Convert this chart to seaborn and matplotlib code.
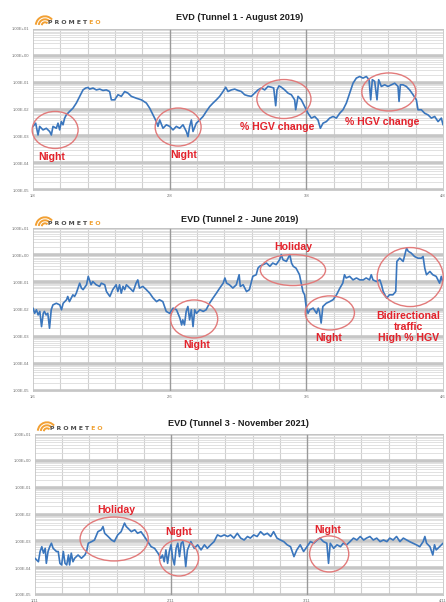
import numpy as np
import matplotlib
matplotlib.use("Agg")
import matplotlib.pyplot as plt
from matplotlib.patches import Ellipse, Arc
from matplotlib.ticker import LogLocator, NullFormatter, FixedLocator
import seaborn as sns

# ---------------------------------------------------------------- data
# time in hours from the first midnight, EVD given as log10 values
day_labels_t1 = ["1/8", "2/8", "3/8", "4/8"]
day_labels_t2 = ["1/6", "2/6", "3/6", "4/6"]
day_labels_t3 = ["1/11", "2/11", "3/11", "4/11"]
evd_tick_labels = ["1.00E-05", "1.00E-04", "1.00E-03", "1.00E-02",
                   "1.00E-01", "1.00E+00", "1.00E+01"]

t1_hours = [0.0, 0.47, 0.88, 1.17, 1.76, 2.34, 2.93, 3.22, 3.51, 4.10, 4.39, 4.68, 4.98, 5.27,
            5.56, 5.85, 6.44, 7.02, 7.61, 8.20, 8.78, 9.25, 9.66, 9.95, 10.54, 11.12, 11.71,
            12.29, 12.88, 13.46, 13.76, 14.34, 14.93, 15.51, 16.10, 16.68, 17.27, 18.15, 19.03,
            19.91, 20.49, 21.07, 21.66, 21.95, 22.25, 22.83, 23.42, 24.00, 24.59, 25.17, 25.76,
            26.34, 26.93, 27.22, 27.51, 27.81, 28.10, 28.68, 29.27, 29.86, 30.44, 31.03, 31.61,
            32.20, 32.78, 33.37, 33.84, 34.25, 34.83, 35.42, 36.00, 36.59, 37.17, 37.76, 38.34,
            38.93, 39.51, 40.10, 40.69, 41.27, 41.86, 42.27, 42.62, 42.85, 43.20, 43.61, 44.20,
            44.78, 45.37, 45.95, 46.13, 46.54, 47.12, 47.71, 48.30, 48.88, 49.47, 50.05, 50.46,
            50.93, 51.52, 52.10, 52.69, 53.27, 53.86, 54.44, 55.03, 55.61, 56.20, 56.78, 57.37,
            57.95, 58.54, 59.01, 59.30, 59.59, 60.00, 60.41, 60.70, 61.17, 61.76, 62.34, 62.93,
            63.52, 64.10, 64.28, 64.51, 64.98, 65.56, 66.15, 66.74, 67.32, 67.61, 68.20, 68.78,
            69.37, 69.95, 70.54, 71.13, 71.71, 72.0]
t1_log_evd = [-2.63, -2.51, -2.95, -2.63, -2.76, -2.70, -2.82, -2.95, -2.63, -2.70, -2.51, -2.76,
              -2.45, -2.57, -2.32, -2.20, -2.07, -1.95, -1.76, -1.51, -1.27, -1.20, -1.18, -1.24,
              -1.20, -1.27, -1.24, -1.29, -1.27, -1.33, -1.64, -1.64, -1.45, -1.51, -1.33, -1.39,
              -1.51, -1.58, -1.64, -1.76, -1.95, -2.20, -2.45, -2.63, -2.39, -2.70, -2.57, -2.63,
              -2.76, -2.63, -2.70, -2.57, -2.82, -3.01, -2.63, -2.39, -2.82, -2.51, -2.39, -2.26,
              -2.07, -1.89, -1.76, -1.64, -1.51, -1.33, -1.17, -1.33, -1.27, -1.24, -1.29, -1.33,
              -1.45, -1.49, -1.51, -1.39, -1.27, -1.20, -1.27, -1.14, -1.17, -1.20, -1.86, -1.27,
              -1.12, -1.17, -1.27, -1.39, -1.45, -1.64, -2.01, -1.51, -1.64, -1.89, -2.14, -2.32,
              -2.26, -2.39, -2.70, -2.51, -2.45, -2.32, -2.26, -2.32, -2.14, -2.01, -1.76, -1.39,
              -1.02, -0.83, -0.77, -0.83, -0.77, -0.89, -1.64, -0.89, -0.95, -1.64, -0.89, -1.14,
              -1.08, -1.14, -1.08, -1.02, -1.14, -1.70, -1.08, -1.08, -1.14, -1.27, -1.45, -1.64,
              -2.01, -2.01, -2.14, -2.20, -2.32, -2.26, -2.45, -2.32, -2.57]

t2_hours = [0.0, 0.3, 0.6, 0.9, 1.2, 1.5, 1.8, 2.0, 2.3, 2.6, 2.9, 3.2, 3.5, 4.1, 4.7, 5.0, 5.3,
            5.9, 6.1, 6.4, 7.0, 7.3, 7.6, 8.2, 8.5, 8.8, 9.4, 9.7, 10.0, 10.2, 10.5, 11.1, 11.7,
            12.0, 12.6, 12.9, 13.5, 14.0, 14.6, 14.9, 15.2, 15.5, 15.8, 16.1, 16.4, 17.0, 17.6,
            18.1, 18.4, 18.7, 19.3, 19.9, 20.5, 21.1, 21.7, 22.2, 22.8, 23.1, 23.4, 24.0, 24.6,
            25.2, 25.8, 26.1, 26.3, 26.6, 26.9, 27.2, 27.5, 27.8, 28.1, 28.4, 28.7, 29.3, 29.9,
            30.4, 31.0, 31.6, 32.2, 32.8, 33.4, 33.7, 34.0, 34.5, 35.1, 35.7, 36.2, 36.4, 36.9,
            37.5, 38.0, 38.6, 39.2, 39.5, 39.8, 40.4, 41.0, 41.6, 42.1, 42.7, 43.3, 43.6, 43.9,
            44.5, 45.1, 45.4, 45.7, 46.2, 46.8, 47.1, 47.4, 47.7, 48.0, 48.3, 48.6, 49.2, 49.8,
            50.1, 50.3, 50.6, 50.9, 51.5, 52.1, 52.7, 53.3, 53.9, 54.4, 54.7, 55.0, 55.6, 56.2,
            56.8, 57.4, 58.0, 58.5, 59.1, 59.4, 59.7, 60.3, 60.9, 61.2, 61.5, 62.1, 62.6, 63.2,
            63.7, 63.9, 64.4, 65.0, 65.6, 65.9, 66.4, 67.0, 67.6, 68.2, 68.5, 68.8, 69.1, 69.7,
            70.2, 70.8, 71.4, 71.7, 72.0]
t2_log_evd = [-1.95, -2.14, -2.01, -2.20, -2.07, -2.63, -2.14, -2.07, -2.20, -2.14, -2.69, -2.01,
              -1.83, -1.77, -1.83, -2.01, -1.77, -1.64, -1.52, -1.71, -1.46, -1.52, -1.40, -1.03,
              -1.21, -1.27, -1.09, -0.78, -0.97, -1.09, -0.97, -1.09, -1.15, -1.03, -1.09, -1.34,
              -1.52, -1.27, -1.09, -1.34, -1.09, -1.40, -1.15, -1.27, -1.09, -1.21, -1.34, -1.03,
              -0.91, -1.21, -1.15, -1.27, -1.40, -1.58, -1.71, -1.64, -1.71, -1.89, -2.07, -2.14,
              -1.95, -2.01, -2.32, -2.57, -2.38, -2.57, -2.07, -1.89, -2.38, -2.01, -2.63, -2.01,
              -2.14, -2.01, -2.07, -2.01, -1.77, -1.58, -1.40, -1.21, -1.03, -0.84, -1.03, -1.09,
              -1.21, -1.09, -0.72, -1.15, -1.09, -1.34, -1.27, -0.78, -0.72, -0.48, -0.41, -0.35,
              -0.29, -0.41, -0.29, -0.35, -0.17, 0.02, -0.17, -0.23, 0.02, -0.29, -0.41, -0.48,
              -0.72, -1.03, -1.34, -1.46, -1.95, -2.14, -2.01, -1.95, -2.14, -1.95, -2.07, -2.50,
              -1.89, -1.77, -1.71, -1.64, -1.46, -1.21, -1.03, -0.72, -0.84, -0.78, -0.91, -0.84,
              -0.91, -0.91, -0.84, -0.91, -0.72, -0.91, -0.97, -0.91, -1.09, -1.34, -1.58, -1.46,
              -1.46, -1.34, -0.23, -0.11, -0.23, 0.26, 0.14, 0.08, -0.05, -0.11, -0.11, -0.05,
              -0.48, -0.72, -0.60, -0.72, -0.78, -1.03, -0.78, -1.03]

t3_hours = [0.0, 0.6, 0.9, 1.2, 1.5, 1.8, 2.0, 2.3, 2.6, 2.9, 3.2, 3.5, 3.8, 4.1, 4.4, 4.7, 5.0,
            5.3, 5.6, 5.9, 6.1, 6.4, 6.7, 7.0, 7.6, 8.2, 8.8, 9.1, 9.4, 10.0, 10.5, 11.1, 11.7,
            12.0, 12.3, 12.9, 13.5, 14.0, 14.3, 14.6, 15.2, 15.8, 16.1, 16.4, 17.0, 17.6, 18.1,
            18.7, 19.3, 19.9, 20.5, 21.1, 21.7, 22.2, 22.5, 22.8, 23.1, 23.4, 23.7, 24.0, 24.3,
            24.6, 24.9, 25.2, 25.5, 25.8, 26.1, 26.3, 26.6, 26.9, 27.5, 28.1, 28.7, 29.3, 29.9,
            30.4, 31.0, 31.6, 32.2, 32.8, 33.4, 34.0, 34.5, 35.1, 35.7, 36.3, 36.9, 37.5, 38.0,
            38.6, 39.2, 39.8, 40.4, 41.0, 41.6, 42.1, 42.7, 43.3, 43.9, 44.5, 45.1, 45.7, 46.2,
            46.8, 47.4, 48.0, 48.6, 49.2, 49.8, 50.3, 50.9, 51.5, 51.8, 52.1, 52.7, 53.3, 53.9,
            54.4, 55.0, 55.6, 56.2, 56.8, 57.4, 58.0, 58.5, 59.1, 59.7, 60.3, 60.9, 61.5, 62.1,
            62.6, 63.2, 63.8, 64.4, 65.0, 65.6, 66.1, 66.7, 67.3, 67.9, 68.5, 68.8, 69.1, 69.7,
            70.2, 70.5, 70.8, 71.4, 72.0]
t3_log_evd = [-3.63, -3.76, -3.38, -3.20, -3.44, -3.26, -3.82, -3.38, -3.20, -3.07, -3.26, -3.32,
              -3.38, -3.38, -3.82, -3.88, -3.38, -3.82, -3.88, -3.51, -3.88, -3.44, -3.76, -3.63,
              -3.51, -3.63, -3.51, -3.38, -3.07, -3.01, -2.95, -2.64, -2.57, -2.45, -2.70, -2.82,
              -2.95, -3.01, -2.88, -2.76, -2.64, -2.32, -2.45, -2.51, -2.64, -2.57, -2.70, -2.64,
              -2.82, -3.01, -3.20, -3.26, -3.44, -3.63, -3.51, -3.76, -3.32, -3.82, -3.38, -3.13,
              -3.63, -3.88, -3.26, -3.07, -3.57, -3.07, -3.01, -3.26, -3.94, -3.32, -3.01, -3.26,
              -3.13, -3.32, -3.13, -3.26, -3.13, -3.01, -2.76, -2.82, -2.76, -2.82, -2.76, -2.88,
              -2.70, -2.88, -2.95, -2.82, -2.88, -2.76, -2.82, -2.64, -2.76, -2.70, -2.82, -2.64,
              -2.88, -2.95, -3.01, -3.13, -3.20, -3.57, -3.32, -3.13, -3.38, -3.20, -3.01, -3.07,
              -2.95, -2.88, -3.01, -3.07, -3.82, -3.07, -3.26, -3.13, -3.20, -3.07, -3.13, -3.01,
              -2.88, -2.95, -2.82, -2.95, -2.88, -2.82, -2.95, -2.88, -3.01, -2.95, -3.01, -2.88,
              -2.95, -2.82, -3.01, -2.88, -2.95, -3.01, -3.07, -3.13, -3.20, -3.01, -2.82, -3.07,
              -3.20, -3.51, -3.13, -3.32, -3.20, -3.07]

titles = ["EVD (Tunnel 1 - August 2019)", "EVD (Tunnel 2 - June 2019)",
          "EVD (Tunnel 3 - November 2021)"]

# --------------------------------------------------------------- style
sns.set_style("white")
plt.rcParams["font.family"] = ["Liberation Sans", "DejaVu Sans"]

W, H = 446, 602
fig = plt.figure(figsize=(W / 100, H / 100), dpi=100)
fig.patch.set_facecolor("white")

LINE = "#3a76bd"
RED = "#e3222b"
RING = "#e27a7a"

# panel boxes in pixels: left, top, right, bottom
boxes = [(33, 29, 443, 190), (33, 228, 443, 391), (35, 434, 443, 595)]

# 4.8 h grid inside each day; day boundaries drawn separately
sub_day = [h for h in np.arange(0, 72.01, 4.8) if abs(h / 24 - round(h / 24)) > 1e-6]


def make_axes(box):
    l, t, r, b = box
    return fig.add_axes([l / W, 1 - b / H, (r - l) / W, (b - t) / H])


def style_axes(ax, day_labels):
    ax.set_yscale("log")
    ax.set_xlim(0, 72)
    ax.set_ylim(1e-5, 1e1)
    ax.set_yticks([10.0 ** k for k in range(-5, 2)])
    ax.set_yticklabels(evd_tick_labels)
    ax.yaxis.set_minor_locator(LogLocator(base=10, subs=np.arange(2, 10)))
    ax.yaxis.set_minor_formatter(NullFormatter())
    ax.set_xticks([0, 24, 48, 72])
    ax.set_xticklabels(day_labels)
    ax.xaxis.set_minor_locator(FixedLocator(sub_day))
    ax.tick_params(which="both", length=0, labelsize=3, labelcolor="#6f6f6f", pad=3)
    ax.grid(which="minor", axis="y", color="#dcdcdc", lw=0.6)
    ax.grid(which="major", axis="y", color="#c6c6c6", lw=2.6)
    ax.grid(which="minor", axis="x", color="#d0d0d0", lw=0.8)
    ax.grid(which="major", axis="x", visible=False)
    # day boundaries sit above the horizontal grid so they stay solid
    for d in ax.get_xticks()[1:-1]:
        ax.axvline(d, color="#9a9a9a", lw=1.0, zorder=1.5)
    ax.set_axisbelow(True)
    for s in ax.spines.values():
        s.set_color("#c4c4c4")
        s.set_linewidth(0.6)
    ax.set_xlabel("")
    ax.set_ylabel("")


def ring(ax, cx, cy, w, h):
    ax.add_patch(Ellipse((cx, cy), w, h, transform=ax.transAxes, fill=False,
                         edgecolor=RING, lw=1.0, zorder=5, clip_on=False))


def note(ax, x, y, s, **kw):
    ax.text(x, y, s, transform=ax.transAxes, color=RED, fontsize=7.6,
            fontweight="bold", ha="center", va="center", zorder=6, **kw)


series = [(t1_hours, t1_log_evd, day_labels_t1),
          (t2_hours, t2_log_evd, day_labels_t2),
          (t3_hours, t3_log_evd, day_labels_t3)]

axes = []
for box, (hrs, lev, lbls) in zip(boxes, series):
    ax = make_axes(box)
    style_axes(ax, lbls)
    sns.lineplot(x=np.array(hrs), y=10.0 ** np.array(lev), ax=ax, color=LINE,
                 lw=1.2, estimator=None, sort=False, zorder=4)
    ax.set_xlim(0, 72)
    ax.set_ylim(1e-5, 1e1)
    axes.append(ax)

ax1, ax2, ax3 = axes

# Tunnel 1 remarks
ring(ax1, 0.054, 0.373, 0.112, 0.230)
note(ax1, 0.046, 0.205, "Night")
ring(ax1, 0.354, 0.391, 0.112, 0.236)
note(ax1, 0.368, 0.217, "Night")
ring(ax1, 0.612, 0.565, 0.132, 0.242)
note(ax1, 0.595, 0.391, "% HGV change")
ring(ax1, 0.868, 0.609, 0.132, 0.236)
note(ax1, 0.851, 0.422, "% HGV change")

# Tunnel 2 remarks
ring(ax2, 0.634, 0.742, 0.159, 0.190)
note(ax2, 0.634, 0.883, "Holiday")
ring(ax2, 0.393, 0.442, 0.115, 0.233)
note(ax2, 0.400, 0.282, "Night")
ring(ax2, 0.724, 0.479, 0.120, 0.209)
note(ax2, 0.720, 0.325, "Night")
ring(ax2, 0.920, 0.699, 0.161, 0.362)
note(ax2, 0.915, 0.393, "Bidirectional\ntraffic\nHigh % HGV", linespacing=1.1)

# Tunnel 3 remarks
ring(ax3, 0.194, 0.348, 0.167, 0.273)
note(ax3, 0.199, 0.528, "Holiday")
ring(ax3, 0.353, 0.230, 0.096, 0.224)
note(ax3, 0.353, 0.391, "Night")
ring(ax3, 0.721, 0.255, 0.096, 0.224)
note(ax3, 0.718, 0.404, "Night")

# ------------------------------------------------ titles and logos
over = fig.add_axes([0, 0, 1, 1], zorder=10)
over.set_xlim(0, W)
over.set_ylim(H, 0)
over.axis("off")
over.patch.set_alpha(0)

title_pos = [(240, 17), (240, 219), (238, 424)]
logo_pos = [(35, 23), (35, 224), (37, 429)]

for (tx, ty), title in zip(title_pos, titles):
    over.text(tx, ty, title, ha="center", va="center", fontsize=6.6,
              fontweight="bold", color="#1e1e1e")

for lx, ly in logo_pos:
    for r in (3.2, 6.2, 9.2):
        over.add_patch(Arc((lx + 10, ly + 2.5), 2 * r, 2 * r, theta1=185, theta2=320,
                           color="#f2a033", lw=1.4))
    t = over.text(lx + 13, ly - 0.5, "P R O M E T", ha="left", va="center",
                  fontsize=4.4, fontweight="bold", color="#4a4a4a",
                  family="DejaVu Sans")
    over.annotate(" E O", xy=(1, 0.5), xycoords=t, va="center", ha="left",
                  fontsize=4.4, fontweight="bold", color="#f0a030",
                  family="DejaVu Sans")

fig.savefig("out.png", dpi=100, facecolor="white")
